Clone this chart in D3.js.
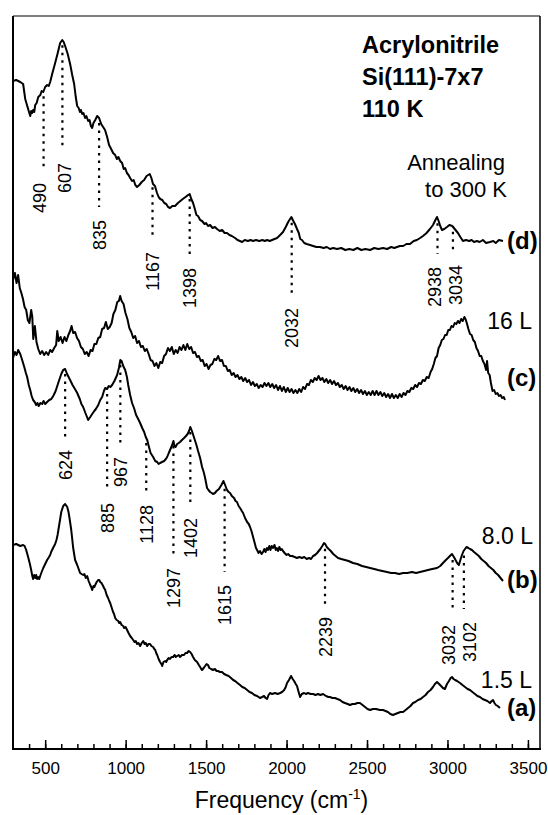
<!DOCTYPE html>
<html>
<head>
<meta charset="utf-8">
<script src="https://cdn.jsdelivr.net/npm/d3@7"></script>
<style>
  body { margin: 0; background: #fff; }
  svg text { font-family: "Liberation Sans", Arial, sans-serif; fill: #000; }
  .trace { fill: none; stroke: #000; stroke-width: 2; stroke-linejoin: round; }
  .peak-line { stroke: #000; stroke-width: 2.2; stroke-dasharray: 2.5,5; }
  .axis path { display: none; }
  .axis line { stroke: #000; stroke-width: 1.5; }
</style>
</head>
<body>
<svg id="chart"></svg>
<script>
// x ticks (cm-1)
const freqTicks = [500, 1000, 1500, 2000, 2500, 3000, 3500];

// spectra: [frequency, intensity (arb. units)]
const traceD = [[300,66.8],[320,66.9],[345,66.7],[363,66.5],[376,65.0],[394,64.0],[407,63.3],[413,63.8],[419,63.6],[425,63.9],[432,63.7],[438,64.4],[447,64.6],[457,65.2],[470,65.4],[478,65.8],[488,65.7],[500,66.2],[512,66.4],[522,66.3],[531,66.7],[545,67.6],[562,68.6],[578,69.6],[593,70.6],[606,70.9],[615,70.7],[624,70.3],[640,69.5],[655,68.5],[668,67.4],[680,66.5],[690,65.2],[699,64.3],[708,64.1],[716,63.7],[722,63.9],[730,63.5],[738,63.6],[748,63.1],[756,63.3],[767,62.8],[776,62.9],[784,62.3],[792,62.1],[800,62.6],[811,62.9],[823,63.3],[835,63.1],[848,62.5],[860,62.2],[872,61.9],[885,61.2],[897,60.4],[910,60.0],[922,59.6],[935,59.4],[945,59.0],[955,59.2],[966,58.8],[978,58.6],[988,58.0],[997,58.1],[1008,57.6],[1018,57.4],[1028,57.1],[1040,56.8],[1050,56.9],[1060,56.4],[1071,56.2],[1085,56.4],[1100,56.7],[1115,56.9],[1130,57.3],[1150,57.5],[1160,57.1],[1170,56.5],[1182,56.3],[1195,55.6],[1205,55.2],[1215,55.0],[1228,54.9],[1240,54.6],[1252,54.5],[1264,54.2],[1276,54.1],[1290,54.3],[1307,54.3],[1325,54.6],[1340,54.8],[1355,55.0],[1372,55.2],[1388,55.4],[1398,55.5],[1408,55.0],[1419,54.6],[1430,54.0],[1440,53.4],[1450,53.3],[1463,52.9],[1475,52.8],[1490,52.5],[1500,52.6],[1512,52.3],[1525,52.4],[1540,52.1],[1555,52.2],[1568,52.0],[1585,51.8],[1600,51.9],[1615,51.6],[1630,51.6],[1645,51.4],[1660,51.3],[1680,51.1],[1695,50.9],[1710,50.8],[1724,50.7],[1740,50.9],[1760,50.8],[1776,50.9],[1792,50.8],[1810,50.9],[1830,50.8],[1850,50.9],[1865,50.8],[1879,50.9],[1895,50.8],[1910,50.9],[1925,51.0],[1941,51.1],[1960,51.4],[1978,51.7],[1995,52.2],[2010,52.7],[2030,53.2],[2042,52.8],[2052,52.5],[2065,52.0],[2076,51.6],[2085,51.0],[2096,50.9],[2110,50.6],[2125,50.5],[2146,50.4],[2165,50.3],[2185,50.2],[2208,50.2],[2230,50.1],[2250,50.2],[2270,50.0],[2290,50.1],[2314,50.0],[2340,50.1],[2365,49.9],[2390,50.0],[2415,49.9],[2440,50.1],[2465,49.9],[2490,50.0],[2519,49.9],[2545,50.1],[2570,50.0],[2600,50.1],[2625,50.0],[2650,50.2],[2670,50.1],[2686,50.2],[2705,50.3],[2725,50.3],[2745,50.5],[2767,50.5],[2790,50.8],[2810,50.9],[2830,51.1],[2848,51.3],[2870,51.6],[2891,52.0],[2910,52.4],[2925,52.9],[2935,53.2],[2945,52.8],[2955,52.3],[2966,51.9],[2980,52.0],[2997,52.2],[3012,52.4],[3030,52.3],[3045,52.0],[3065,51.6],[3080,51.2],[3096,50.8],[3115,50.9],[3135,50.8],[3150,50.9],[3165,50.7],[3183,50.8],[3200,50.7],[3220,50.9],[3240,50.6],[3264,50.7],[3285,50.8],[3300,50.6],[3320,50.9],[3345,50.8]];

const traceC = [[300,46.9],[312,47.6],[322,46.6],[332,47.4],[342,46.1],[352,45.6],[362,45.0],[372,44.2],[382,43.9],[392,42.9],[402,42.6],[413,43.9],[420,43.2],[426,41.0],[436,42.3],[446,40.7],[457,40.0],[469,39.5],[481,39.8],[494,39.4],[506,39.7],[519,39.4],[531,39.9],[543,39.7],[556,40.1],[568,40.4],[575,41.8],[584,40.8],[596,41.2],[608,40.6],[620,41.2],[632,40.8],[644,41.4],[655,41.8],[664,42.3],[674,41.6],[686,41.7],[698,41.1],[710,40.8],[722,40.2],[734,40.0],[746,39.5],[758,39.7],[770,39.3],[782,39.9],[794,39.8],[806,40.5],[818,40.5],[830,41.1],[842,41.2],[854,42.0],[866,42.1],[877,42.7],[889,42.0],[901,42.2],[913,42.6],[924,43.5],[936,43.9],[948,44.7],[958,44.8],[966,45.3],[975,44.8],[987,44.5],[999,43.6],[1011,43.0],[1023,42.1],[1035,41.7],[1047,41.1],[1059,41.3],[1071,40.6],[1083,40.8],[1095,40.2],[1107,40.3],[1119,39.8],[1131,40.0],[1143,39.5],[1155,38.9],[1167,38.8],[1179,38.3],[1191,38.6],[1203,38.1],[1215,38.7],[1227,38.6],[1239,39.3],[1251,39.5],[1263,40.1],[1275,39.8],[1287,40.2],[1299,39.5],[1311,39.9],[1323,39.6],[1335,40.2],[1347,39.9],[1359,40.4],[1371,39.9],[1383,40.5],[1395,40.0],[1407,40.2],[1419,39.6],[1431,39.7],[1443,39.2],[1455,39.3],[1467,38.8],[1479,38.9],[1491,38.3],[1503,38.5],[1515,38.0],[1527,38.4],[1539,38.5],[1551,39.0],[1563,38.9],[1575,39.3],[1587,38.8],[1599,38.9],[1611,38.3],[1623,38.3],[1635,37.8],[1647,37.9],[1659,37.4],[1671,37.6],[1683,37.2],[1695,37.4],[1707,37.0],[1719,37.2],[1731,36.8],[1743,37.1],[1755,36.7],[1767,36.9],[1779,36.4],[1791,36.7],[1803,36.3],[1815,36.5],[1827,36.1],[1839,36.4],[1851,36.2],[1863,36.6],[1875,36.3],[1887,36.6],[1899,36.2],[1911,36.5],[1923,36.1],[1935,36.4],[1947,35.9],[1959,36.3],[1971,35.8],[1983,36.2],[1995,35.7],[2007,36.1],[2019,35.7],[2031,36.0],[2043,35.6],[2055,35.9],[2067,35.6],[2079,36.0],[2091,35.7],[2103,36.2],[2115,36.0],[2127,36.5],[2139,36.4],[2151,36.9],[2163,36.7],[2175,37.1],[2187,36.9],[2199,37.3],[2211,36.9],[2223,37.1],[2235,36.7],[2247,37.0],[2259,36.6],[2271,36.9],[2283,36.5],[2295,36.8],[2307,36.4],[2319,36.6],[2331,36.2],[2343,36.4],[2355,36.0],[2367,36.3],[2379,35.9],[2391,36.2],[2403,35.8],[2415,36.1],[2427,35.7],[2439,36.0],[2451,35.6],[2463,35.9],[2475,35.5],[2487,35.8],[2499,35.4],[2511,35.7],[2523,35.4],[2535,35.8],[2547,35.4],[2559,35.8],[2571,35.4],[2583,35.7],[2595,35.3],[2607,35.6],[2619,35.2],[2631,35.5],[2643,35.1],[2655,35.5],[2667,35.1],[2679,35.4],[2691,35.1],[2703,35.5],[2715,35.2],[2727,35.6],[2739,35.4],[2751,35.8],[2763,35.7],[2775,36.1],[2787,36.0],[2799,36.4],[2811,36.2],[2823,36.6],[2835,36.5],[2847,36.9],[2859,36.8],[2871,37.2],[2883,37.1],[2895,37.7],[2905,38.0],[2915,38.5],[2925,39.1],[2935,39.3],[2945,40.1],[2955,40.4],[2965,40.9],[2975,41.0],[2985,41.4],[2995,41.4],[3005,41.9],[3015,41.9],[3025,42.3],[3035,42.2],[3045,42.6],[3055,42.5],[3065,42.8],[3075,42.6],[3085,43.0],[3095,42.8],[3105,43.2],[3112,43.0],[3120,42.6],[3130,42.0],[3140,41.5],[3150,41.4],[3160,40.9],[3170,40.7],[3180,40.1],[3190,39.8],[3200,39.3],[3210,39.3],[3220,38.8],[3230,38.5],[3240,37.9],[3246,38.8],[3253,37.6],[3262,37.4],[3270,36.6],[3280,35.8],[3290,35.9],[3300,35.5],[3310,35.6],[3320,35.3],[3330,35.4],[3340,35.1],[3350,35.2],[3357,34.9]];

const traceB = [[300,39.1],[312,39.7],[322,39.4],[332,39.9],[345,39.5],[357,38.9],[370,38.2],[380,37.6],[388,37.2],[398,36.4],[407,35.9],[416,35.3],[425,34.9],[435,34.7],[444,34.4],[452,34.6],[460,34.3],[470,34.6],[481,34.5],[490,34.8],[500,34.5],[512,34.7],[525,34.9],[538,35.0],[550,35.3],[565,35.8],[581,36.6],[600,37.5],[612,37.9],[624,38.0],[636,37.5],[655,36.9],[670,36.4],[685,36.0],[699,35.6],[715,35.0],[725,34.5],[736,34.2],[750,33.6],[760,33.2],[767,32.9],[780,33.2],[792,33.5],[805,33.8],[815,34.0],[830,34.4],[842,34.9],[854,35.2],[865,35.8],[873,36.1],[885,36.0],[895,36.3],[905,36.2],[916,36.4],[930,36.8],[947,37.4],[958,38.1],[967,38.9],[975,38.8],[985,38.3],[997,37.9],[1008,37.2],[1016,36.4],[1028,35.4],[1040,34.6],[1052,34.1],[1065,33.4],[1078,33.0],[1090,32.6],[1103,32.1],[1115,31.7],[1125,31.2],[1134,30.9],[1145,30.2],[1155,29.6],[1171,29.2],[1184,28.8],[1196,28.7],[1205,28.5],[1214,28.6],[1226,28.7],[1239,28.8],[1250,29.0],[1258,29.2],[1268,29.6],[1276,29.9],[1289,30.4],[1297,30.8],[1303,30.3],[1310,30.2],[1320,30.5],[1330,30.6],[1338,30.7],[1350,30.9],[1363,31.1],[1375,31.3],[1385,31.5],[1394,31.8],[1402,32.2],[1412,31.8],[1420,31.4],[1430,30.9],[1440,30.4],[1450,29.8],[1463,29.1],[1475,28.2],[1485,27.7],[1494,27.1],[1506,26.1],[1515,25.9],[1525,25.7],[1535,25.6],[1543,25.5],[1555,25.6],[1565,25.8],[1580,26.0],[1595,26.4],[1608,26.8],[1618,26.4],[1630,25.9],[1640,25.7],[1649,25.6],[1660,25.3],[1674,25.1],[1683,24.8],[1692,24.7],[1702,24.3],[1711,24.1],[1722,23.8],[1730,23.6],[1742,23.1],[1755,22.7],[1765,22.5],[1773,22.2],[1782,21.8],[1792,21.2],[1802,20.6],[1810,20.1],[1817,19.9],[1826,19.6],[1835,19.8],[1845,19.5],[1854,19.7],[1862,20.0],[1870,19.7],[1878,20.1],[1885,19.9],[1893,20.3],[1900,19.9],[1908,20.3],[1916,20.1],[1925,20.4],[1933,19.9],[1940,20.1],[1947,19.8],[1955,20.2],[1963,19.9],[1970,20.0],[1978,19.8],[1988,19.6],[2000,19.4],[2010,19.5],[2022,19.3],[2035,19.3],[2050,19.2],[2065,19.1],[2080,19.2],[2095,19.1],[2110,19.2],[2125,19.0],[2140,19.1],[2152,19.0],[2165,19.3],[2177,19.4],[2190,19.6],[2200,19.8],[2210,20.0],[2222,20.3],[2233,20.6],[2240,20.5],[2250,20.2],[2262,20.0],[2275,19.8],[2290,19.5],[2305,19.3],[2320,19.1],[2340,19.0],[2363,18.9],[2385,18.8],[2413,18.6],[2440,18.5],[2469,18.3],[2495,18.2],[2519,18.1],[2545,18.0],[2568,17.9],[2595,17.8],[2624,17.7],[2650,17.6],[2674,17.6],[2700,17.5],[2724,17.6],[2750,17.6],[2780,17.7],[2805,17.6],[2829,17.7],[2855,17.8],[2879,17.9],[2905,18.0],[2935,18.1],[2955,18.3],[2972,18.6],[2990,18.9],[3003,19.1],[3015,19.3],[3028,19.5],[3040,19.2],[3050,18.9],[3060,18.6],[3071,18.4],[3080,18.9],[3090,19.4],[3100,19.8],[3109,20.0],[3118,20.2],[3130,20.1],[3140,20.0],[3152,19.9],[3165,19.7],[3180,19.5],[3195,19.3],[3210,19.0],[3225,18.8],[3240,18.6],[3255,18.3],[3270,18.1],[3285,17.9],[3300,17.6],[3315,17.4],[3330,17.1],[3345,16.8]];

const traceA = [[300,20.4],[320,20.5],[345,20.3],[363,20.4],[372,20.3],[382,19.9],[394,19.2],[405,18.5],[413,17.9],[420,17.3],[425,17.0],[432,17.4],[438,17.1],[444,17.4],[450,17.0],[457,17.2],[463,17.0],[469,17.3],[478,17.7],[488,18.1],[500,18.5],[512,18.9],[520,19.1],[531,19.4],[537,19.7],[543,19.9],[552,20.2],[562,20.5],[570,20.9],[577,21.4],[587,22.4],[600,23.7],[612,24.3],[624,24.5],[637,24.2],[645,23.7],[652,23.0],[662,21.9],[674,20.1],[686,18.9],[699,18.4],[708,18.0],[717,17.6],[726,17.5],[736,17.4],[744,17.5],[752,17.1],[761,17.3],[770,16.8],[780,16.4],[786,16.2],[792,15.9],[800,16.3],[806,16.2],[811,16.4],[820,16.7],[829,16.9],[836,16.9],[842,16.7],[850,16.6],[860,16.3],[866,16.1],[873,15.9],[882,15.4],[891,15.1],[898,14.8],[904,14.6],[912,14.2],[922,13.7],[928,13.5],[935,13.1],[944,12.9],[954,12.8],[960,12.6],[966,12.7],[975,12.4],[985,12.3],[991,12.1],[1000,12.2],[1009,11.9],[1018,11.6],[1028,11.3],[1038,11.1],[1047,10.9],[1055,10.7],[1063,10.8],[1071,10.5],[1080,10.6],[1090,10.3],[1100,10.6],[1109,10.8],[1118,10.5],[1125,10.6],[1134,10.3],[1142,10.5],[1152,10.5],[1160,10.3],[1171,10.2],[1178,10.0],[1184,9.9],[1190,9.6],[1196,9.4],[1205,9.0],[1214,8.7],[1222,8.5],[1227,8.3],[1235,8.7],[1245,8.8],[1252,8.7],[1258,8.9],[1268,9.1],[1276,9.0],[1285,9.2],[1295,9.2],[1305,9.4],[1312,9.2],[1320,9.3],[1330,9.4],[1338,9.2],[1350,9.4],[1363,9.4],[1372,9.6],[1382,9.6],[1392,9.8],[1401,9.7],[1410,9.5],[1419,9.2],[1430,8.9],[1444,8.7],[1455,8.4],[1463,8.2],[1470,8.0],[1475,7.9],[1485,8.1],[1494,8.3],[1503,8.5],[1512,8.4],[1520,8.1],[1531,8.0],[1543,7.9],[1555,8.0],[1565,7.8],[1574,7.8],[1587,7.7],[1599,7.7],[1612,7.5],[1625,7.4],[1640,7.3],[1655,7.1],[1668,6.9],[1680,6.8],[1695,6.6],[1711,6.4],[1725,6.2],[1740,6.1],[1755,5.9],[1770,5.7],[1785,5.6],[1800,5.4],[1817,5.3],[1835,5.1],[1848,5.2],[1860,5.3],[1870,5.1],[1879,5.0],[1888,5.4],[1897,5.6],[1910,5.5],[1929,5.6],[1945,5.5],[1960,5.6],[1972,5.7],[1985,5.9],[1995,6.2],[2003,6.6],[2015,6.9],[2028,7.3],[2038,7.0],[2047,6.8],[2057,6.5],[2065,6.3],[2075,5.7],[2084,5.2],[2095,5.5],[2109,5.6],[2120,5.5],[2133,5.6],[2150,5.5],[2165,5.5],[2180,5.4],[2196,5.5],[2210,5.4],[2227,5.5],[2245,5.3],[2260,5.2],[2270,5.2],[2285,5.1],[2301,5.1],[2316,5.0],[2332,4.9],[2348,4.7],[2363,4.6],[2380,4.5],[2394,4.4],[2410,4.5],[2425,4.5],[2440,4.6],[2456,4.6],[2472,4.4],[2488,4.2],[2503,4.0],[2519,3.9],[2537,4.0],[2556,4.0],[2580,3.9],[2599,3.9],[2615,3.8],[2630,3.7],[2645,3.5],[2661,3.4],[2676,3.5],[2692,3.6],[2708,3.7],[2724,3.7],[2740,3.9],[2755,4.1],[2770,4.3],[2786,4.6],[2800,4.7],[2817,4.9],[2833,5.0],[2848,5.2],[2864,5.4],[2879,5.7],[2895,5.9],[2910,6.2],[2922,6.5],[2935,6.7],[2948,6.5],[2960,6.3],[2972,6.1],[2984,6.0],[2997,6.5],[3009,6.8],[3020,7.1],[3028,7.2],[3038,7.0],[3047,6.9],[3060,6.8],[3078,6.6],[3093,6.4],[3109,6.2],[3125,6.0],[3140,5.9],[3155,5.7],[3171,5.5],[3186,5.3],[3202,5.2],[3218,5.0],[3233,4.9],[3248,4.8],[3264,4.6],[3275,4.8],[3283,4.9],[3292,4.6],[3301,4.4],[3312,4.3],[3326,4.1]];

// peak assignments: frequency, and the intensity level where the label starts
const peaksD = [[490, 56.6], [607, 58.6], [835, 52.9], [1167, 49.7], [1398, 48.1], [2032, 44.1], [2938, 48.2], [3034, 48.4]];
const peaksB = [[624, 29.9], [885, 24.6], [967, 29.2], [1128, 24.4], [1297, 18.1], [1402, 23.1], [1615, 16.4], [2239, 13.2], [3032, 12.4], [3102, 12.7]];

class Spectra {
    constructor(_config) {
        this.config = {
            parentElement: _config.parentElement,
            containerWidth: 548,
            containerHeight: 815,
            margin: {top: 16, right: 8, bottom: 66, left: 13}
        };
        this.initVis();
    }

    initVis() {
        let vis = this;
        const m = vis.config.margin;
        vis.width = vis.config.containerWidth - m.left - m.right;
        vis.height = vis.config.containerHeight - m.top - m.bottom;

        vis.xScale = d3.scaleLinear().domain([300, 3575]).range([0, vis.width]);
        vis.yScale = d3.scaleLinear().domain([0, 73.3]).range([vis.height, 0]);

        vis.svg = d3.select(vis.config.parentElement)
            .attr('width', vis.config.containerWidth)
            .attr('height', vis.config.containerHeight);

        vis.chart = vis.svg.append('g')
            .attr('transform', `translate(${m.left},${m.top})`);
    }

    // intensity of a trace at a given frequency
    valueAt(trace, f) {
        const i = d3.bisector(d => d[0]).left(trace, f);
        const a = trace[Math.max(0, i - 1)], b = trace[Math.min(trace.length - 1, i)];
        if (a[0] === b[0]) return a[1];
        return a[1] + (b[1] - a[1]) * (f - a[0]) / (b[0] - a[0]);
    }

    renderVis() {
        let vis = this;
        const x = vis.xScale, y = vis.yScale;

        // frame
        vis.chart.append('line').attr('x1', 0).attr('x2', vis.width).attr('y1', 0).attr('y2', 0)
            .attr('stroke', '#000').attr('stroke-width', 1.2);
        vis.chart.append('line').attr('x1', vis.width).attr('x2', vis.width).attr('y1', 0).attr('y2', vis.height)
            .attr('stroke', '#000').attr('stroke-width', 1.5);
        vis.chart.append('line').attr('x1', 0).attr('x2', 0).attr('y1', 0).attr('y2', vis.height + 1)
            .attr('stroke', '#000').attr('stroke-width', 2);

        // minor ticks every 100
        vis.chart.append('g')
            .attr('class', 'axis')
            .attr('transform', `translate(0,${vis.height})`)
            .call(d3.axisBottom(x).tickValues(d3.range(400, 3501, 100)).tickSize(-5).tickFormat(''));

        // major ticks
        vis.chart.append('g')
            .attr('class', 'axis x-axis')
            .attr('transform', `translate(0,${vis.height})`)
            .call(d3.axisBottom(x).tickValues(freqTicks).tickSize(-9).tickPadding(13).tickFormat(d3.format('d')))
            .selectAll('text')
            .style('font-size', '17px');

        vis.chart.append('line').attr('x1', -1).attr('x2', vis.width + 1).attr('y1', vis.height).attr('y2', vis.height)
            .attr('stroke', '#000').attr('stroke-width', 2);

        // spectra
        const line = d3.line().x(d => x(d[0])).y(d => y(d[1]));
        vis.chart.selectAll('.trace')
            .data([traceD, traceC, traceB, traceA])
            .join('path')
            .attr('class', 'trace')
            .attr('d', line);

        // dotted peak markers with rotated labels
        const peaks = [
            ...peaksD.map(p => ({f: p[0], at: p[1], trace: traceD})),
            ...peaksB.map(p => ({f: p[0], at: p[1], trace: traceB}))
        ];
        // labels nudged sideways where two sit close together
        const nudge = {490: -4, 607: 2, 2938: -3, 3034: 3, 3032: -4, 3102: 6};

        vis.chart.selectAll('.peak-line')
            .data(peaks)
            .join('line')
            .attr('class', 'peak-line')
            .attr('x1', d => x(d.f)).attr('x2', d => x(d.f))
            .attr('y1', d => y(vis.valueAt(d.trace, d.f)) + 5)
            .attr('y2', d => y(d.at) - 13);

        vis.chart.selectAll('.peak-label')
            .data(peaks)
            .join('text')
            .attr('class', 'peak-label')
            .attr('transform', d => `translate(${x(d.f) + (nudge[d.f] || 0)},${y(d.at)}) rotate(-90)`)
            .attr('text-anchor', 'end')
            .attr('dy', '0.36em')
            .style('font-size', '18px')
            .text(d => d.f);

        // text labels
        const bold = [['Acrylonitrile', 349, 37], ['Si(111)-7x7', 349, 69], ['110 K', 349, 101]];
        vis.chart.selectAll('.title')
            .data(bold)
            .join('text')
            .attr('class', 'title')
            .attr('x', d => d[1]).attr('y', d => d[2])
            .style('font-size', '23.5px').style('font-weight', 'bold')
            .text(d => d[0]);

        const right = [['Annealing', 492, 154, 22], ['to 300 K', 494, 181, 22], ['16 L', 519, 313, 23], ['8.0 L', 520, 528, 23], ['1.5 L', 519, 672, 23]];
        vis.chart.selectAll('.cond')
            .data(right)
            .join('text')
            .attr('class', 'cond')
            .attr('x', d => d[1]).attr('y', d => d[2])
            .attr('text-anchor', 'end')
            .style('font-size', d => d[3] + 'px')
            .text(d => d[0]);

        const tags = [['(d)', 233], ['(c)', 370], ['(b)', 572], ['(a)', 700]];
        vis.chart.selectAll('.tag')
            .data(tags)
            .join('text')
            .attr('class', 'tag')
            .attr('x', 494).attr('y', d => d[1])
            .style('font-size', '24px').style('font-weight', 'bold')
            .text(d => d[0]);

        // x axis title
        const xt = vis.chart.append('text')
            .attr('x', vis.width / 2 + 5)
            .attr('y', vis.height + 59)
            .attr('text-anchor', 'middle')
            .style('font-size', '23px');
        xt.append('tspan').text('Frequency (cm');
        xt.append('tspan').attr('dy', -9).style('font-size', '14px').text('-1');
        xt.append('tspan').attr('dy', 9).text(')');
    }
}

const spectra = new Spectra({parentElement: '#chart'});
spectra.renderVis();
</script>
</body>
</html>
